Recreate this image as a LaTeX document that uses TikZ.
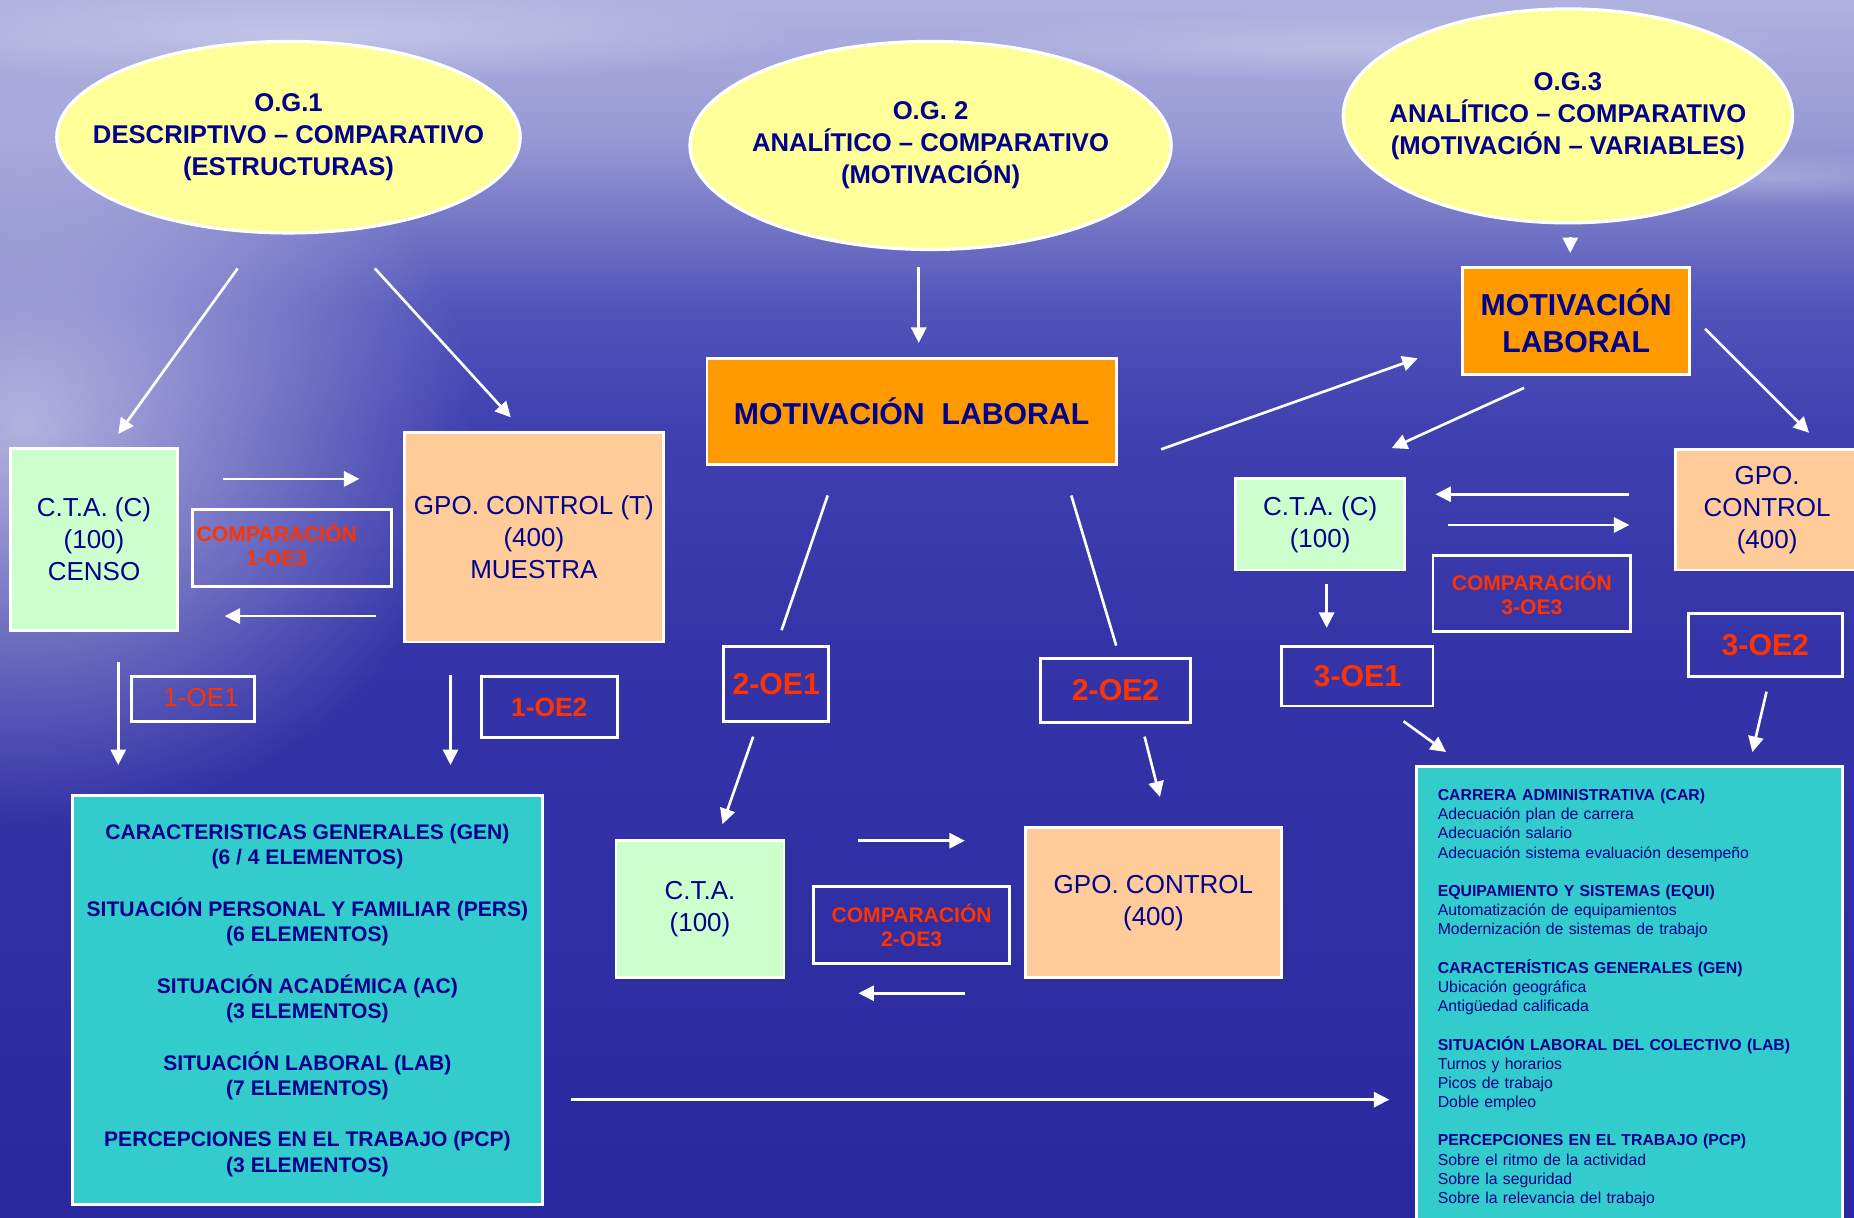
\documentclass[tikz,border=0pt]{standalone}
\usepackage{fontspec}
\setmainfont{Liberation Sans}
\usepackage{xcolor}
\usepackage{tikz}
\usetikzlibrary{shapes.geometric, arrows.meta, positioning, fadings}

\definecolor{skytop}{RGB}{176,178,224}
\definecolor{skymid}{RGB}{150,152,212}
\definecolor{skylow}{RGB}{110,112,196}
\definecolor{seahigh}{RGB}{82,84,186}
\definecolor{seaupper}{RGB}{64,64,176}
\definecolor{seamid}{RGB}{52,52,168}
\definecolor{seadeep}{RGB}{42,40,158}
\definecolor{ogyellow}{HTML}{FFFF99}
\definecolor{ctagreen}{HTML}{CCFFCC}
\definecolor{gpopeach}{HTML}{FFCC99}
\definecolor{motorange}{HTML}{FF9900}
\definecolor{varcyan}{HTML}{33CCCC}
\definecolor{navytext}{RGB}{0,0,140}
\definecolor{oered}{HTML}{FF3300}

\pgfdeclareverticalshading{oceansky}{100bp}{color(0bp)=(seadeep); color(25bp)=(seadeep); color(48.3bp)=(seamid); color(57.5bp)=(seaupper); color(62.4bp)=(seahigh); color(65.3bp)=(skylow); color(69.2bp)=(skymid); color(75bp)=(skytop); color(100bp)=(skytop)}
\tikzfading[name=glowfade, inner color=transparent!40, outer color=transparent!100]

\newlength{\pxu}
\setlength{\pxu}{0.011824cm}

\begin{document}
\begin{tikzpicture}[
    x=\pxu, y=-\pxu,
    objective/.style={ellipse, draw=white, line width=0.9pt, fill=ogyellow, text=navytext, inner xsep=-12pt, inner ysep=0pt, align=center, font=\bfseries\fontsize{7.3}{9.1}\selectfont},
    groupbox/.style={rectangle, draw=white, line width=0.8pt, inner sep=0pt, text=navytext, align=center, font=\fontsize{7.4}{9.1}\selectfont},
    ctabox/.style={groupbox, fill=ctagreen},
    gpobox/.style={groupbox, fill=gpopeach},
    motbox/.style={groupbox, fill=motorange, font=\bfseries\fontsize{8.6}{10.5}\selectfont},
    varbox/.style={groupbox, fill=varcyan},
    oebox/.style={rectangle, draw=white, line width=0.8pt, inner sep=0pt, text=oered, font=\bfseries\fontsize{8.6}{10}\selectfont},
    cmpbox/.style={oebox, align=center, font=\bfseries\fontsize{6}{6.8}\selectfont},
    arrow/.style={-{Triangle[length=4.4pt, width=4.3pt]}, white, line width=0.75pt},
    link/.style={white, line width=0.75pt}
]

% Background
\useasboundingbox (0,0) rectangle (1568,1030);
\shade[shading=oceansky] (0,0) rectangle (1568,1030);
\fill[white, path fading=glowfade] (20,360) ellipse [x radius=380, y radius=340];
\fill[white, opacity=0.5, path fading=glowfade] (260,30) ellipse [x radius=420, y radius=40];
\fill[white, opacity=0.4, path fading=glowfade] (1150,40) ellipse [x radius=380, y radius=30];
\fill[white, opacity=0.4, path fading=glowfade] (1500,150) ellipse [x radius=200, y radius=25];

% Objectives
\node[objective, minimum width=392\pxu, minimum height=162\pxu] (og1) at (244,116) {O.G.1\\DESCRIPTIVO – COMPARATIVO\\(ESTRUCTURAS)};
\node[objective, minimum width=407\pxu, minimum height=176\pxu] (og2) at (787,123) {O.G. 2\\ANALÍTICO – COMPARATIVO\\(MOTIVACIÓN)};
\node[objective, minimum width=380\pxu, minimum height=181\pxu] (og3) at (1326,98) {O.G.3\\ANALÍTICO – COMPARATIVO\\(MOTIVACIÓN – VARIABLES)};

% Group 1: structures
\node[ctabox, minimum width=141\pxu, minimum height=154\pxu] (cta1) at (79.5,456) {C.T.A. (C)\\(100)\\CENSO};
\node[gpobox, minimum width=219\pxu, minimum height=177\pxu] (gpo1) at (451.5,454.5) {GPO. CONTROL (T)\\(400)\\MUESTRA};
\node[cmpbox, minimum width=168\pxu, minimum height=65\pxu] (cmp1) at (247,463.5) {};
\node[cmpbox, draw=none] (cmp1-txt) at (234,460) {COMPARACIÓN\\1-OE3};
\node[oebox, minimum width=104\pxu, minimum height=38\pxu] (oe11) at (163,591) {};
\node[oebox, draw=none, font=\fontsize{7.4}{9}\selectfont] (oe11-txt) at (170,590) {1-OE1};
\node[oebox, minimum width=115\pxu, minimum height=52\pxu, font=\bfseries\fontsize{7.5}{9}\selectfont] (oe12) at (464.5,598) {1-OE2};
\node[varbox, minimum width=398\pxu, minimum height=346\pxu, font=\bfseries\fontsize{6}{7.25}\selectfont] (var1) at (260,846) {CARACTERISTICAS GENERALES (GEN)\\(6 / 4 ELEMENTOS)\\[7.4pt]SITUACIÓN PERSONAL Y FAMILIAR (PERS)\\(6 ELEMENTOS)\\[7.4pt]SITUACIÓN ACADÉMICA (AC)\\(3 ELEMENTOS)\\[7.4pt]SITUACIÓN LABORAL (LAB)\\(7 ELEMENTOS)\\[7.4pt]PERCEPCIONES EN EL TRABAJO (PCP)\\(3 ELEMENTOS)};

% Group 2: motivation
\node[motbox, minimum width=346\pxu, minimum height=90\pxu] (mot2) at (771,348) {MOTIVACIÓN~~LABORAL};
\node[oebox, minimum width=89\pxu, minimum height=63\pxu] (oe21) at (656.5,578.5) {2-OE1};
\node[oebox, minimum width=127\pxu, minimum height=54\pxu] (oe22) at (943.5,584) {2-OE2};
\node[ctabox, minimum width=142\pxu, minimum height=116\pxu] (cta2) at (592,769) {C.T.A.\\(100)};
\node[gpobox, minimum width=217\pxu, minimum height=127\pxu] (gpo2) at (975.5,763.5) {GPO. CONTROL\\(400)};
\node[cmpbox, minimum width=166\pxu, minimum height=65\pxu] (cmp2) at (771,782.5) {COMPARACIÓN\\2-OE3};

% Group 3: motivation and variables
\node[motbox, minimum width=192\pxu, minimum height=91\pxu] (mot3) at (1333,271.5) {MOTIVACIÓN\\LABORAL};
\node[ctabox, minimum width=143\pxu, minimum height=77\pxu] (cta3) at (1116.5,443.5) {C.T.A. (C)\\(100)};
\node[gpobox, minimum width=155\pxu, minimum height=102\pxu] (gpo3) at (1494.5,431) {GPO.\\CONTROL\\(400)};
\node[cmpbox, minimum width=167\pxu, minimum height=64\pxu] (cmp3) at (1295.5,502) {COMPARACIÓN\\3-OE3};
\node[oebox, minimum width=128\pxu, minimum height=50\pxu] (oe31) at (1148,572) {3-OE1};
\node[oebox, minimum width=130\pxu, minimum height=53\pxu] (oe32) at (1493,545.5) {3-OE2};
\node[varbox, minimum width=360\pxu, minimum height=392\pxu, text width=324\pxu, align=left, font=\fontsize{4.5}{5.46}\selectfont] (var3) at (1378,844) {\textbf{CARRERA ADMINISTRATIVA (CAR)}\\Adecuación plan de carrera\\Adecuación salario\\Adecuación sistema evaluación desempeño\\[5.46pt]\textbf{EQUIPAMIENTO Y SISTEMAS (EQUI)}\\Automatización de equipamientos\\Modernización de sistemas de trabajo\\[5.46pt]\textbf{CARACTERÍSTICAS GENERALES (GEN)}\\Ubicación geográfica\\Antigüedad calificada\\[5.46pt]\textbf{SITUACIÓN LABORAL DEL COLECTIVO (LAB)}\\Turnos y horarios\\Picos de trabajo\\Doble empleo\\[5.46pt]\textbf{PERCEPCIONES EN EL TRABAJO (PCP)}\\Sobre el ritmo de la actividad\\Sobre la seguridad\\Sobre la relevancia del trabajo};

% Connector ends
\coordinate (og1-l) at (201,227);
\coordinate (og1-r) at (317,227);
\coordinate (cta1-in) at (100,367);
\coordinate (gpo1-in) at (432,353);
\coordinate (cmp1-ra) at (189,405);
\coordinate (cmp1-rb) at (304,405);
\coordinate (cmp1-la) at (318,521);
\coordinate (cmp1-lb) at (190,521);
\coordinate (cta1-out) at (100,560);
\coordinate (gpo1-out) at (381,571);
\coordinate (var1-l) at (100,647);
\coordinate (var1-r) at (381,647);
\coordinate (var1-out) at (483,930);
\coordinate (var3-in) at (1175,930);
\coordinate (og2-out) at (777,226);
\coordinate (mot2-in) at (777,290);
\coordinate (mot2-l) at (700,419);
\coordinate (mot2-r) at (906,419);
\coordinate (oe21-in) at (661,533);
\coordinate (oe22-in) at (944,546);
\coordinate (oe21-out) at (637,623);
\coordinate (oe22-out) at (968,623);
\coordinate (cta2-in) at (611,697);
\coordinate (gpo2-in) at (981,674);
\coordinate (cmp2-ra) at (726,711);
\coordinate (cmp2-rb) at (816,711);
\coordinate (cmp2-la) at (816,840);
\coordinate (cmp2-lb) at (726,840);
\coordinate (mot2-out) at (982,380);
\coordinate (mot3-in) at (1199,303);
\coordinate (og3-out) at (1328,200);
\coordinate (mot3-top) at (1328,214);
\coordinate (mot3-l) at (1289,328);
\coordinate (mot3-r) at (1442,278);
\coordinate (cta3-in) at (1177,379);
\coordinate (gpo3-in) at (1530,366);
\coordinate (cmp3-la) at (1378,418);
\coordinate (cmp3-lb) at (1214,418);
\coordinate (cmp3-ra) at (1225,444);
\coordinate (cmp3-rb) at (1378,444);
\coordinate (cta3-out) at (1122,494);
\coordinate (oe31-in) at (1122,531);
\coordinate (oe31-out) at (1187,610);
\coordinate (oe32-out) at (1494,585);
\coordinate (var3-l) at (1223,636);
\coordinate (var3-r) at (1482,636);

% Arrows of group 1
\draw[arrow] (og1-l) -- (cta1-in);
\draw[arrow] (og1-r) -- (gpo1-in);
\draw[arrow] (cmp1-ra) -- (cmp1-rb);
\draw[arrow] (cmp1-la) -- (cmp1-lb);
\draw[arrow] (cta1-out) -- (var1-l);
\draw[arrow] (gpo1-out) -- (var1-r);
\draw[arrow] (var1-out) -- (var3-in);

% Arrows of group 2
\draw[arrow] (og2-out) -- (mot2-in);
\draw[link] (mot2-l) -- (oe21-in);
\draw[link] (mot2-r) -- (oe22-in);
\draw[arrow] (oe21-out) -- (cta2-in);
\draw[arrow] (oe22-out) -- (gpo2-in);
\draw[arrow] (cmp2-ra) -- (cmp2-rb);
\draw[arrow] (cmp2-la) -- (cmp2-lb);
\draw[arrow] (mot2-out) -- (mot3-in);

% Arrows of group 3
\draw[arrow] (og3-out) -- (mot3-top);
\draw[arrow] (mot3-l) -- (cta3-in);
\draw[arrow] (mot3-r) -- (gpo3-in);
\draw[arrow] (cmp3-la) -- (cmp3-lb);
\draw[arrow] (cmp3-ra) -- (cmp3-rb);
\draw[arrow] (cta3-out) -- (oe31-in);
\draw[arrow] (oe31-out) -- (var3-l);
\draw[arrow] (oe32-out) -- (var3-r);

\end{tikzpicture}
\end{document}
